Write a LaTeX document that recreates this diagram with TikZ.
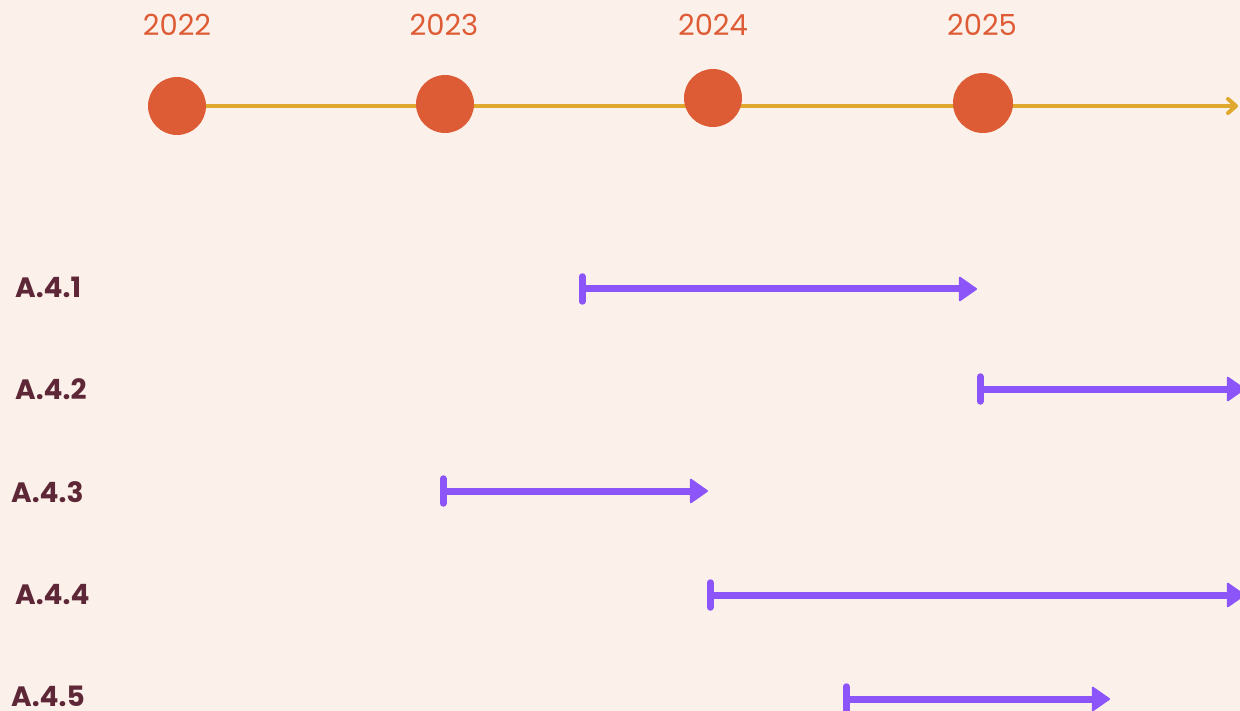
\documentclass[tikz,border=0pt]{standalone}
\usepackage{fontspec}
\setmainfont{Poppins}
\usetikzlibrary{arrows.meta,backgrounds}
\definecolor{bg}{HTML}{FCF1EA}
\definecolor{dot}{HTML}{DD5B35}
\definecolor{axis}{HTML}{E0A82E}
\definecolor{bar}{HTML}{8B55F9}
\definecolor{lab}{HTML}{5E2737}
\begin{document}
\begin{tikzpicture}[x=1pt,y=-1pt,
  year/.style={text=dot,font=\fontsize{29}{31}\selectfont,inner sep=0pt,anchor=center},
  yeardot/.style={circle,fill=dot,minimum size=58pt,inner sep=0pt},
  task/.style={text=lab,font=\fontsize{28}{30}\selectfont\bfseries,inner sep=0pt,anchor=west},
  span/.style={draw=bar,line width=7pt,{Bar[width=25pt,line width=6.5pt,round]}-{Triangle[length=19pt,width=26pt,line width=2pt,round]}},
  axisline/.style={draw=axis,line width=4pt,-{Straight Barb[length=8pt,width=14pt,line width=4pt,round]}}
]
\useasboundingbox (0,0) rectangle (1240,711);
% axis
\coordinate (axend) at (1238,106);
\node[yeardot] (d22) at (177,106) {};
\node[yeardot] (d23) at (445,104) {};
\node[yeardot] (d24) at (713,98) {};
\node[yeardot,minimum size=60pt] (d25) at (983,103) {};
\begin{scope}[on background layer]
\fill[bg] (0,0) rectangle (1240,711);
\draw[axisline] (d22.center) -- (axend);
\end{scope}
\node[year] (y22) at (177,25) {2022};
\node[year] (y23) at (444,25) {2023};
\node[year] (y24) at (713,25) {2024};
\node[year] (y25) at (982,25) {2025};
% tasks
\node[task] (t1) at (15,287) {A.4.1};
\node[task] (t2) at (15,389) {A.4.2};
\node[task] (t3) at (11,492) {A.4.3};
\node[task] (t4) at (15,595) {A.4.4};
\node[task] (t5) at (11,696) {A.4.5};
\coordinate (s1) at (579,289); \coordinate (e1) at (977,289);
\coordinate (s2) at (977,389); \coordinate (e2) at (1245,389);
\coordinate (s3) at (440,491); \coordinate (e3) at (708,491);
\coordinate (s4) at (707,595); \coordinate (e4) at (1245,595);
\coordinate (s5) at (843,699); \coordinate (e5) at (1110,699);
\draw[span] (s1) -- (e1);
\draw[span] (s2) -- (e2);
\draw[span] (s3) -- (e3);
\draw[span] (s4) -- (e4);
\draw[span] (s5) -- (e5);
\end{tikzpicture}
\end{document}
